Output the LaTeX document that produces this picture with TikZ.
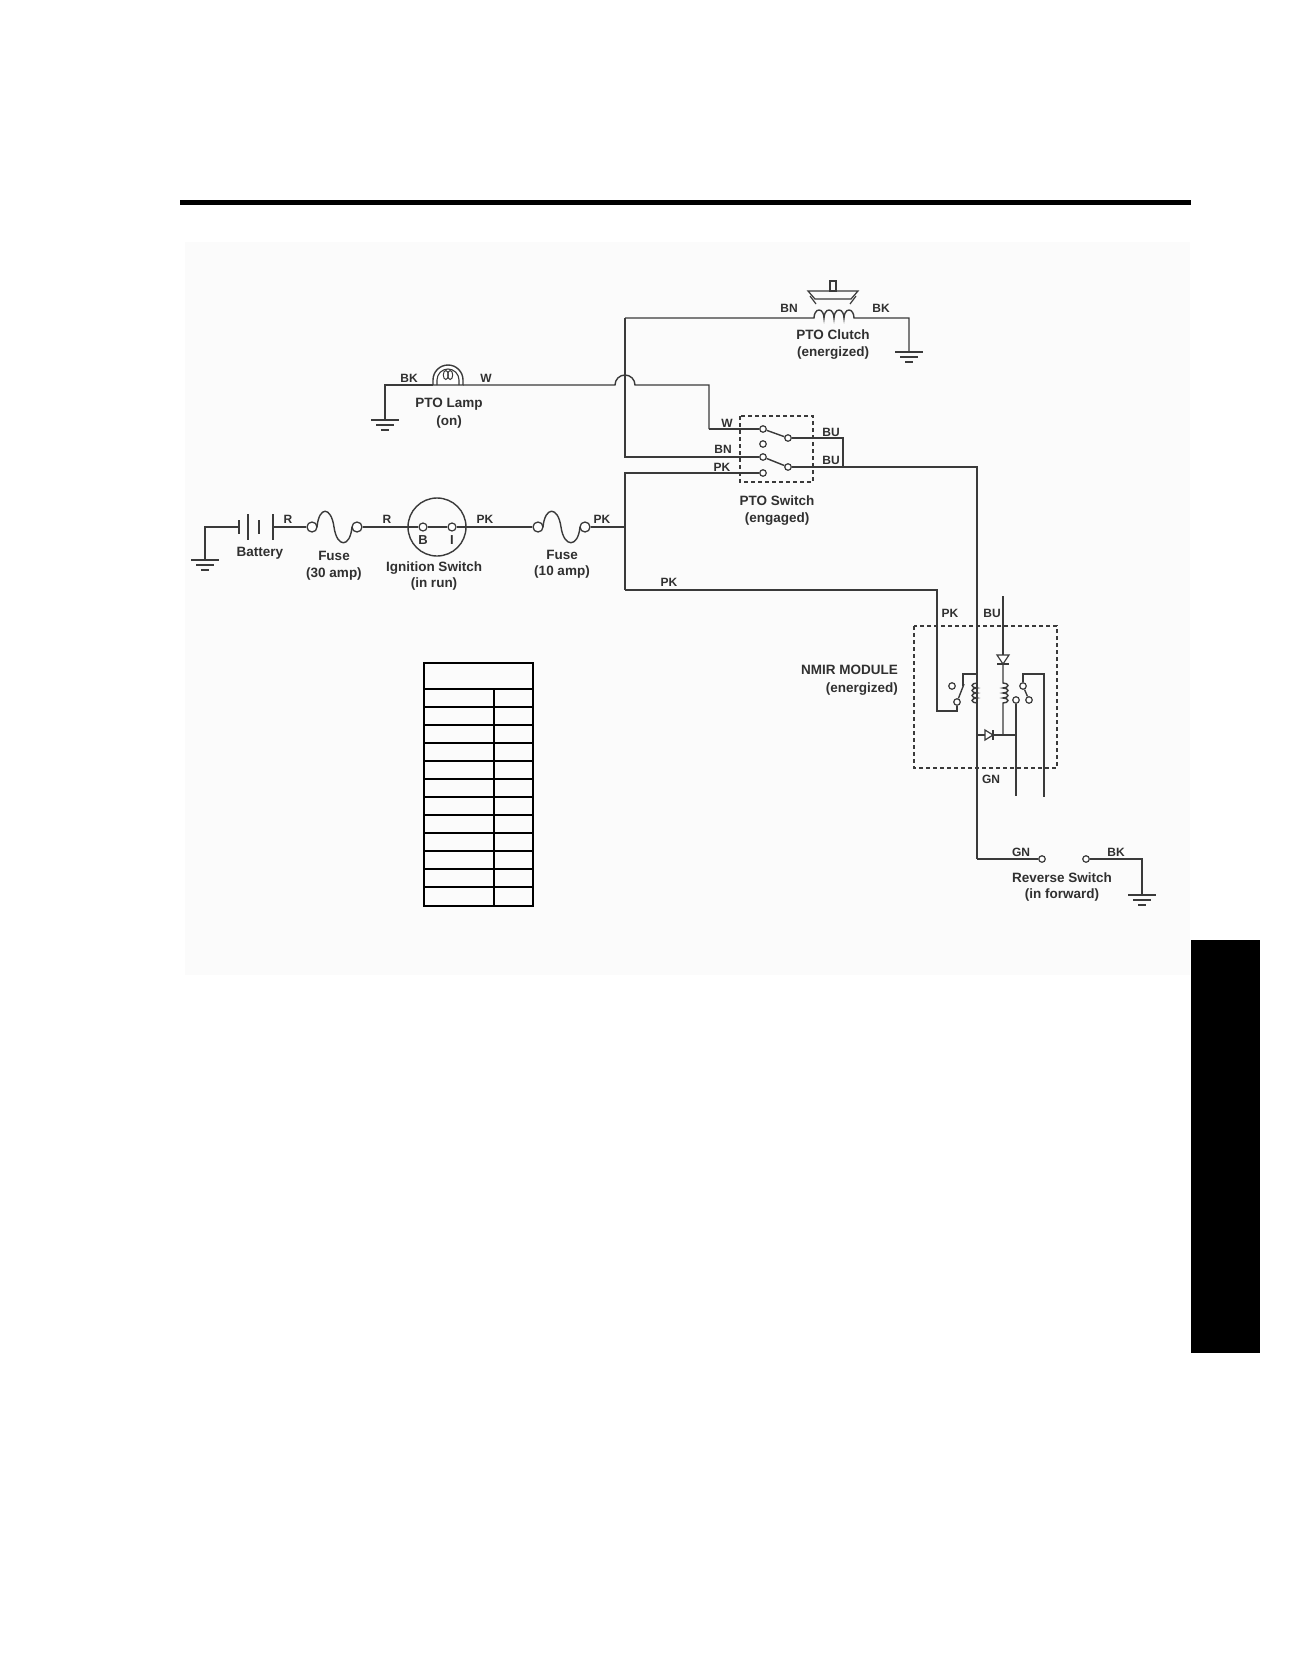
\documentclass[tikz,border=0pt]{standalone}
\usepackage{fontspec}
\setmainfont{Liberation Sans}
\usetikzlibrary{calc}
\definecolor{wire}{HTML}{3A3A3A}
\definecolor{txt}{HTML}{303030}
\definecolor{panel}{HTML}{FBFBFB}
\tikzset{
  wirestyle/.style={draw=wire,line width=1.4pt,line join=miter},
  dashbox/.style={draw=wire,line width=1.4pt,dash pattern=on 4pt off 3pt},
  contact/.style={circle,draw=wire,line width=1.2pt,fill=white,inner sep=0pt,minimum size=6.5pt},
  bigcontact/.style={circle,draw=wire,line width=1.3pt,fill=white,inner sep=0pt,minimum size=10pt},
  lbl/.style={font=\bfseries\fontsize{12}{14}\selectfont,text=txt,anchor=base,inner sep=0pt},
  cname/.style={font=\bfseries\fontsize{13.5}{16}\selectfont,text=txt,anchor=base,inner sep=0pt},
  tableline/.style={draw=black,line width=1.6pt},
  gnd/.pic={\draw[wirestyle] (-14,0)--(14,0) (-9,5)--(9,5) (-4,10)--(4,10);}
}
\begin{document}
\begin{tikzpicture}[x=1pt,y=-1pt]
\path[use as bounding box] (0,0) rectangle (1296,1656);
\fill[white] (0,0) rectangle (1296,1656);
\fill[panel] (185,242) rectangle (1190,975);

% top rule and side tab
\fill[black] (180,200) rectangle (1191,205);
\fill[black] (1191,940) rectangle (1260,1353);

% ---------------- PTO clutch ----------------
\coordinate (clL) at (625,318);
\coordinate (coilA) at (814,318);
\coordinate (clR) at (909,318);
\coordinate (clG) at (909,352);
\draw[wirestyle] (clL) -- (coilA)
  arc[start angle=180,end angle=360,x radius=5,y radius=8]
  arc[start angle=180,end angle=360,x radius=5,y radius=8]
  arc[start angle=180,end angle=360,x radius=5,y radius=8]
  arc[start angle=180,end angle=360,x radius=5,y radius=8]
  -- (clR) -- (clG);
\pic at (clG) {gnd};
% clutch plate
\draw[wirestyle,line width=1.2pt] (830,281) rectangle (836,291);
\draw[wirestyle,line width=1.2pt] (808,291) -- (858,291) -- (851,299) -- (815,299) -- cycle;
\draw[wirestyle,line width=1.2pt] (810,296) -- (816,304);
\draw[wirestyle,line width=1.2pt] (856,296) -- (850,304);
\node[lbl] (tBNc) at (789,312) {BN};
\node[lbl] (tBKc) at (881,312) {BK};
\node[cname] (tClutch) at (833,339) {PTO Clutch};
\node[cname] (tClutch2) at (833,356) {(energized)};

% ---------------- PTO lamp ----------------
\coordinate (lampG) at (385,420);
\coordinate (lampL) at (433,385);
\coordinate (lampR) at (463,385);
\coordinate (jmpL) at (615,385);
\coordinate (wT) at (709,385);
\coordinate (wB) at (709,429);
\draw[wirestyle] (lampG) -- (385,385) -- (lampL);
\pic at (lampG) {gnd};
\draw[wirestyle,fill=white] (433,385) -- (433,380) arc[start angle=180,end angle=360,radius=15] -- (463,385) -- cycle;
\draw[wirestyle,line width=1.1pt] (437,385) -- (437,380) arc[start angle=180,end angle=360,radius=11] -- (459,385);
\draw[wire,line width=1pt] (445.8,375) ellipse[x radius=2.5,y radius=4.5];
\draw[wire,line width=1pt] (450.2,375) ellipse[x radius=2.5,y radius=4.5];
\draw[wirestyle] (lampR) -- (jmpL) arc[start angle=180,end angle=360,radius=10] -- (wT) -- (wB);
\node[lbl] (tBKl) at (409,382) {BK};
\node[lbl] (tWl) at (486,382) {W};
\node[cname] (tLamp) at (449,407) {PTO Lamp};
\node[cname] (tLamp2) at (449,425) {(on)};

% ---------------- PTO switch ----------------
\draw[dashbox] (740,416) rectangle (813,482);
\node[contact] (sW) at (763,429) {};
\node[contact] (sBU1) at (788,438) {};
\node[contact] (sO) at (763,444) {};
\node[contact] (sBN) at (763,457) {};
\node[contact] (sBU2) at (788,467) {};
\node[contact] (sPK) at (763,473) {};
\draw[wirestyle] (wB) -- (sW);
\draw[wirestyle] (sW) -- (sBU1);
\draw[wirestyle] (sBN) -- (sBU2);
\coordinate (bnL) at (625,457);
\coordinate (pkT) at (625,473);
\draw[wirestyle] (clL) -- (bnL) -- (sBN);
\draw[wirestyle] (sPK) -- (pkT) -- (625,590);
\coordinate (buJ) at (843,467);
\draw[wirestyle] (sBU1) -- (843,438) -- (buJ);
\coordinate (buR) at (977,467);
\coordinate (gnB) at (977,859);
\draw[wirestyle] (sBU2) -- (buR) -- (gnB);
\node[lbl] (tWs) at (727,427) {W};
\node[lbl] (tBNs) at (723,453) {BN};
\node[lbl] (tPKs) at (722,471) {PK};
\node[lbl] (tBUs1) at (831,436) {BU};
\node[lbl] (tBUs2) at (831,464) {BU};
\node[cname] (tSw) at (777,505) {PTO Switch};
\node[cname] (tSw2) at (777,522) {(engaged)};

% ---------------- battery row ----------------
\coordinate (batG) at (205,560);
\coordinate (batL) at (239,527);
\draw[wirestyle] (batG) -- (205,527) -- (batL);
\pic at (batG) {gnd};
\draw[wirestyle] (239,520) -- (239,534);
\draw[wirestyle] (248,514) -- (248,540);
\draw[wirestyle] (259,520) -- (259,534);
\draw[wirestyle] (273,514) -- (273,540);
\node[bigcontact] (f1a) at (312,527) {};
\node[bigcontact] (f1b) at (357,527) {};
\draw[wirestyle] (273,527) -- (f1a);
\draw[wirestyle] (317,527) .. controls (319,506) and (331,506) .. (334,527) .. controls (337,548) and (350,548) .. (352,527);
\draw[wirestyle] (437,527) circle[radius=29];
\node[contact,minimum size=8pt] (ignB) at (423,527) {};
\node[contact,minimum size=8pt] (ignI) at (452,527) {};
\draw[wirestyle] (f1b) -- (ignB);
\draw[wirestyle] (ignB) -- (ignI);
\node[bigcontact] (f2a) at (538,527) {};
\node[bigcontact] (f2b) at (585,527) {};
\draw[wirestyle] (ignI) -- (f2a);
\draw[wirestyle] (543,527) .. controls (545,506) and (558,506) .. (561,527) .. controls (564,548) and (578,548) .. (580,527);
\draw[wirestyle] (f2b) -- (625,527);
\node[lbl] (tR1) at (288,523) {R};
\node[lbl] (tR2) at (387,523) {R};
\node[lbl] (tPK1) at (485,523) {PK};
\node[lbl] (tPK2) at (602,523) {PK};
\node[cname,font=\bfseries\fontsize{13}{15}\selectfont] (tB) at (423,544) {B};
\node[cname,font=\bfseries\fontsize{13}{15}\selectfont] (tI) at (452,544) {I};
\node[cname] (tBat) at (260,556) {Battery};
\node[cname] (tF1) at (334,560) {Fuse};
\node[cname] (tF1b) at (334,577) {(30 amp)};
\node[cname] (tIgn) at (434,571) {Ignition Switch};
\node[cname] (tIgn2) at (434,587) {(in run)};
\node[cname] (tF2) at (562,559) {Fuse};
\node[cname] (tF2b) at (562,575) {(10 amp)};

% ---------------- PK to NMIR ----------------
\node[contact] (r1p) at (957,702) {};
\node[contact] (r1o) at (952,686) {};
\draw[wirestyle] (625,590) -- (937,590) -- (937,711) -- (957,711) -- (r1p);
\node[lbl] (tPKb) at (669,586) {PK};

% ---------------- NMIR module ----------------
\draw[dashbox] (914,626) rectangle (1057,768);
% relay 1
\draw[wirestyle] (r1p) -- (964,684);
\draw[wirestyle] (963,686) -- (963,674) -- (977,674);
\draw[wirestyle] (977,683)
  arc[start angle=270,end angle=90,x radius=5,y radius=2.5]
  arc[start angle=270,end angle=90,x radius=5,y radius=2.5]
  arc[start angle=270,end angle=90,x radius=5,y radius=2.5]
  arc[start angle=270,end angle=90,x radius=5,y radius=2.5];
% relay 2 coil line
\coordinate (r2T) at (1003,596);
\draw[wirestyle] (r2T) -- (1003,655);
\draw[wirestyle,line width=1.2pt,fill=white] (997,655) -- (1009,655) -- (1003,664) -- cycle;
\draw[wirestyle,line width=1.2pt] (997,664) -- (1009,664);
\draw[wirestyle] (1003,664) -- (1003,683)
  arc[start angle=270,end angle=450,x radius=5,y radius=2.5]
  arc[start angle=270,end angle=450,x radius=5,y radius=2.5]
  arc[start angle=270,end angle=450,x radius=5,y radius=2.5]
  arc[start angle=270,end angle=450,x radius=5,y radius=2.5]
  -- (1003,735);
% bottom diode
\draw[wirestyle] (977,735) -- (985,735);
\draw[wirestyle,line width=1.2pt,fill=white] (985,730) -- (985,740) -- (993,735) -- cycle;
\draw[wirestyle,line width=1.2pt] (993,730) -- (993,740);
\draw[wirestyle] (993,735) -- (1016,735);
% relay 2 contacts
\node[contact] (r2a) at (1016,700) {};
\node[contact] (r2t) at (1023,686) {};
\node[contact] (r2b) at (1029,700) {};
\draw[wirestyle] (r2t) -- (r2b);
\draw[wirestyle] (r2a) -- (1016,796);
\draw[wirestyle] (r2t) -- (1023,674) -- (1044,674) -- (1044,797);
\node[lbl] (tPKn) at (950,617) {PK};
\node[lbl] (tBUn) at (992,617) {BU};
\node[lbl] (tGNn) at (991,783) {GN};
\node[cname,anchor=base east] (tNM) at (898,674) {NMIR MODULE};
\node[cname,anchor=base east] (tNM2) at (898,692) {(energized)};

% ---------------- reverse switch ----------------
\node[contact] (rv1) at (1042,859) {};
\node[contact] (rv2) at (1086,859) {};
\coordinate (rvR) at (1142,859);
\coordinate (rvG) at (1142,895);
\draw[wirestyle] (gnB) -- (rv1);
\draw[wirestyle] (rv2) -- (rvR) -- (rvG);
\pic at (rvG) {gnd};
\node[lbl] (tGNr) at (1021,856) {GN};
\node[lbl] (tBKr) at (1116,856) {BK};
\node[cname] (tRev) at (1062,882) {Reverse Switch};
\node[cname] (tRev2) at (1062,898) {(in forward)};

% ---------------- empty table ----------------
\draw[tableline] (424,663) rectangle (533,906);
\foreach \k in {0,...,11} {
  \draw[tableline] (424,689+18*\k) -- (533,689+18*\k);
}
\draw[tableline] (494,689) -- (494,906);
\end{tikzpicture}
\end{document}
